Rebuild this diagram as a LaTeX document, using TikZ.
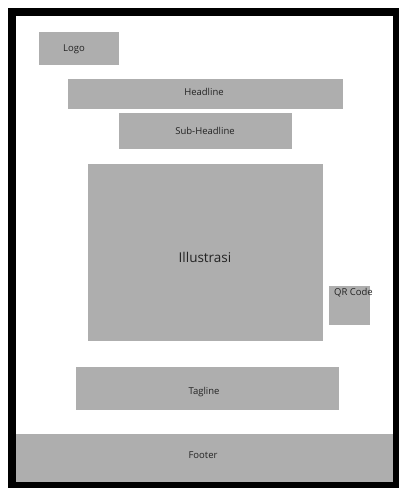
\documentclass[tikz,border=0pt]{standalone}
\usepackage{fontspec}
\setmainfont{Open Sans}
\usepackage{tikz}
\usepackage[dvipsnames]{xcolor}
\definecolor{boxgray}{RGB}{174,174,174}
\definecolor{txtgray}{RGB}{35,35,35}
\tikzset{box/.style={fill=boxgray},
  lbl/.style={color=txtgray,font=\fontsize{9.5}{11}\selectfont,inner sep=0pt}}

\begin{document}
\begin{tikzpicture}[x=1pt,y=-1pt]
\useasboundingbox (0,0) rectangle (399,488);

\fill [black] (8,8) rectangle (399,488);
\fill [white] (16,16) rectangle (393,482);

\fill [box] (39,32) rectangle (119,65);
\fill [box] (68,79) rectangle (343,109);
\fill [box] (119,113) rectangle (292,149);
\fill [box] (88,164) rectangle (323,341);
\fill [box] (329,286) rectangle (370,325);
\fill [box] (76,367) rectangle (339,410);
\fill [box] (16,434) rectangle (393,482);

\node [lbl] (logo) at (74,49) {Logo};
\node [lbl] (headline) at (204,92) {Headline};
\node [lbl] (subheadline) at (205,131) {Sub-Headline};
\node [lbl,font=\fontsize{13.5}{16}\selectfont] (illustrasi) at (205,257) {Illustrasi};
\node [lbl,anchor=north west] (qrcode) at (334,288.5) {QR Code};
\node [lbl] (tagline) at (204,392) {Tagline};
\node [lbl] (footer) at (203,455) {Footer};

\end{tikzpicture}
\end{document}
